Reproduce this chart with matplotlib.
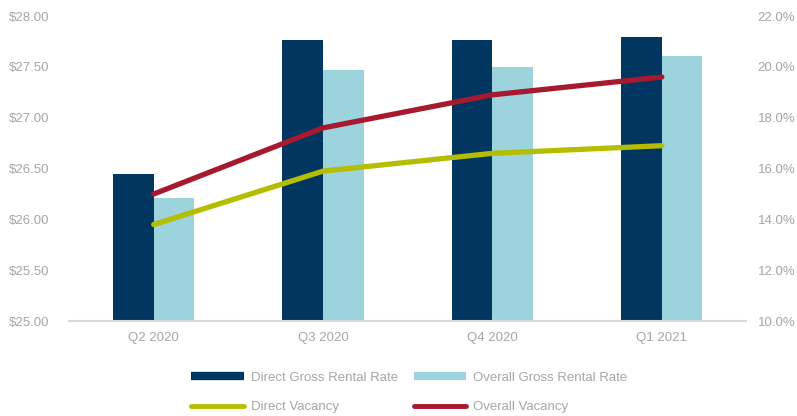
import matplotlib.pyplot as plt
import numpy as np
from matplotlib.lines import Line2D
from matplotlib.ticker import FuncFormatter

plt.rcParams["font.family"] = ["Liberation Sans", "DejaVu Sans"]

quarters = ["Q2 2020", "Q3 2020", "Q4 2020", "Q1 2021"]
direct_rate = [26.45, 27.76, 27.76, 27.79]
overall_rate = [26.21, 27.47, 27.50, 27.61]
direct_vacancy = [13.8, 15.9, 16.6, 16.9]
overall_vacancy = [15.0, 17.6, 18.9, 19.6]

navy = "#00365F"
light_blue = "#9CD3DC"
olive = "#B5BD00"
red = "#A6192E"
grey = "#A6A6A6"

fig = plt.figure(figsize=(7.97, 4.16), dpi=100)
ax = fig.add_axes([0.0866, 0.228, 0.850, 0.7335])
ax2 = ax.twinx()

x = np.arange(len(quarters))
w = 0.24
ax.bar(x - w / 2, direct_rate, w, color=navy, zorder=2)
ax.bar(x + w / 2, overall_rate, w, color=light_blue, zorder=2)

ax2.plot(x, direct_vacancy, color=olive, lw=3.8, solid_capstyle="round")
ax2.plot(x, overall_vacancy, color=red, lw=3.8, solid_capstyle="round")

ax.set_xlim(-0.5, 3.5)
ax.set_ylim(25, 28)
ax.set_yticks(np.arange(25, 28.01, 0.5))
ax.yaxis.set_major_formatter(FuncFormatter(lambda v, p: f"${v:.2f}"))
ax2.set_ylim(10, 22)
ax2.set_yticks(np.arange(10, 22.01, 2))
ax2.yaxis.set_major_formatter(FuncFormatter(lambda v, p: f"{v:.1f}%"))
ax.set_xticks(x)
ax.set_xticklabels(quarters)

for a in (ax, ax2):
    for s in a.spines.values():
        s.set_visible(False)
    a.tick_params(length=0, colors=grey, labelsize=9.5)
ax.spines["bottom"].set_visible(True)
ax.spines["bottom"].set_color("#D9D9D9")
ax.spines["bottom"].set_linewidth(1.5)
ax.tick_params(axis="y", pad=14)
ax.tick_params(axis="x", pad=8)
ax2.tick_params(axis="y", pad=8)

handles = [
    Line2D([], [], color=navy, lw=6, solid_capstyle="butt"),
    Line2D([], [], color=olive, lw=3.5, solid_capstyle="round"),
    Line2D([], [], color=light_blue, lw=6, solid_capstyle="butt"),
    Line2D([], [], color=red, lw=3.5, solid_capstyle="round"),
]
labels = ["Direct Gross Rental Rate", "Direct Vacancy",
          "Overall Gross Rental Rate", "Overall Vacancy"]
leg = fig.legend(handles, labels, ncol=2, frameon=False, loc="lower left",
                 bbox_to_anchor=(0.225, -0.022), fontsize=9.5, handlelength=4,
                 handletextpad=0.5, columnspacing=1.2, labelspacing=1.3)
for t in leg.get_texts():
    t.set_color(grey)

fig.savefig("out.png", dpi=100)
